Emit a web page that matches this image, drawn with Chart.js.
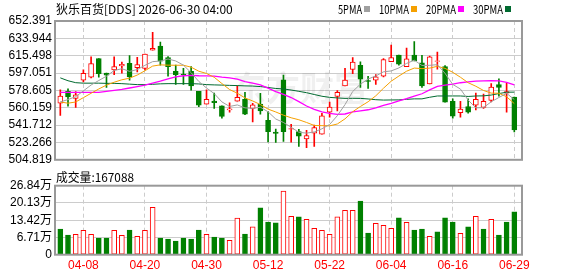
<!DOCTYPE html>
<html lang="zh">
<head>
<meta charset="utf-8">
<title>狄乐百货 DDS</title>
<script src="https://cdn.jsdelivr.net/npm/chart.js@4.4.1/dist/chart.umd.min.js"></script>
<style>
  html, body { margin: 0; padding: 0; background: #fff; }
  #wrap { position: relative; width: 578px; height: 276px; overflow: hidden; }
  #mainChart { position: absolute; left: 0; top: 0; }
  #volChart { position: absolute; left: 0; top: 170px; }
</style>
</head>
<body>
<div id="wrap">
  <canvas id="mainChart" width="578" height="170"></canvas>
  <canvas id="volChart" width="578" height="106"></canvas>
</div>
<script>
// Dados do gráfico
const stockName = '狄乐百货';
const stockCode = 'DDS';
const quoteTime = '2026-06-30 04:00';

const dates = [
  '04-02', '04-06', '04-07', '04-08', '04-09', '04-10', '04-13', '04-14', '04-15', '04-16',
  '04-17', '04-20', '04-21', '04-22', '04-23', '04-24', '04-27', '04-28', '04-29', '04-30',
  '05-01', '05-04', '05-05', '05-06', '05-07', '05-08', '05-11', '05-12', '05-13', '05-14',
  '05-15', '05-18', '05-19', '05-20', '05-21', '05-22', '05-26', '05-27', '05-28', '05-29',
  '06-01', '06-02', '06-03', '06-04', '06-05', '06-08', '06-09', '06-10', '06-11', '06-12',
  '06-15', '06-16', '06-17', '06-18', '06-22', '06-23', '06-24', '06-25', '06-26', '06-29'
];

const opens = [
  564.97, 577.58, 570.10, 589.57, 592.65, 612.42, 597.05, 600.43, 604.53, 607.30,
  602.89, 601.87, 621.34, 625.75, 613.45, 598.79, 596.03, 598.79, 577.58, 563.95,
  567.33, 562.21, 557.80, 567.03, 569.08, 559.44, 563.95, 546.84, 534.23, 589.88,
  537.30, 534.85, 527.06, 533.21, 532.18, 555.34, 572.15, 583.42, 600.84, 605.25,
  589.16, 589.57, 593.67, 609.04, 616.21, 603.92, 616.21, 608.02, 585.47, 609.35,
  603.92, 567.03, 555.04, 561.49, 562.93, 560.47, 568.05, 584.76, 575.53, 571.40
];
const highs = [
  579.32, 580.35, 577.28, 600.43, 614.17, 612.42, 597.05, 614.17, 608.63, 615.50,
  613.76, 617.24, 640.40, 629.85, 614.47, 605.56, 602.18, 603.92, 577.58, 579.32,
  575.84, 562.21, 565.28, 583.42, 576.56, 564.98, 575.53, 556.06, 537.61, 595.00,
  542.43, 537.30, 536.28, 541.71, 554.32, 566.31, 578.30, 602.18, 613.45, 609.04,
  593.67, 595.31, 612.42, 626.77, 616.21, 623.70, 630.56, 615.80, 615.19, 619.29,
  604.94, 569.69, 567.03, 569.69, 575.84, 574.81, 585.78, 590.91, 586.09, 571.40
];
const lows = [
  551.96, 561.90, 560.47, 587.52, 591.93, 592.65, 581.68, 595.31, 597.05, 589.57,
  598.38, 600.43, 621.34, 605.56, 593.67, 585.06, 585.06, 578.91, 561.18, 563.95,
  559.44, 549.19, 555.34, 567.03, 552.68, 545.09, 553.29, 523.78, 523.27, 524.30,
  523.57, 519.16, 517.63, 519.16, 532.18, 550.22, 556.78, 583.42, 596.34, 581.68,
  580.66, 585.06, 592.95, 609.04, 605.56, 603.92, 610.06, 581.68, 585.47, 601.15,
  565.97, 549.19, 550.22, 554.32, 557.80, 559.44, 566.31, 572.46, 555.34, 534.54
];
const closes = [
  572.45, 571.74, 573.79, 596.75, 607.00, 596.34, 594.70, 603.92, 606.28, 592.95,
  605.97, 617.24, 623.39, 609.66, 603.92, 595.31, 595.00, 583.42, 562.93, 569.08,
  565.59, 550.94, 559.14, 571.13, 553.29, 563.24, 556.78, 534.85, 532.80, 534.85,
  537.92, 529.93, 530.44, 538.95, 551.65, 560.88, 576.56, 589.57, 608.63, 590.60,
  588.14, 592.95, 611.40, 613.45, 606.58, 612.12, 610.06, 583.42, 614.17, 610.06,
  565.97, 551.24, 558.83, 555.34, 569.08, 567.03, 582.19, 581.68, 577.28, 536.59
];
const prevClose = 574.50;

// Volume em 万 (10 mil)
const volumes = [
  10.0, 7.67, 7.9, 9.5, 7.9, 6.5, 6.5, 9.5, 7.55, 9.6,
  7.15, 9.5, 18.45, 6.5, 6.1, 5.3, 6.5, 6.1, 9.6, 7.9,
  6.9, 6.5, 5.6, 14.2, 8.05, 10.8, 18.2, 12.7, 12.35, 24.7,
  14.95, 14.7, 13.8, 10.3, 9.5, 7.9, 14.7, 17.3, 17.3, 20.9,
  8.45, 12.2, 11.45, 10.3, 14.3, 12.6, 9.6, 10.0, 7.15, 8.85,
  14.3, 12.7, 8.3, 10.8, 14.95, 10.0, 13.8, 7.67, 12.7, 16.7088
];

// Médias lidas no início da janela (antes de haver fechamentos suficientes)
const ma5Start = [566.31, 568.87, 571.94, 578.09];
const ma10Start = [566.31, 564.98, 566.31, 570.92, 575.53, 580.14, 584.24, 587.32, 589.88];
const ma20Start = [
  576.56, 576.56, 576.56, 576.56, 576.56, 576.56, 577.58, 578.61, 579.63, 581.17,
  582.70, 584.24, 586.29, 588.34, 590.90, 592.95, 594.18, 594.49, 594.18
];
const ma30Start = [
  591.93, 588.87, 586.82, 586.29, 586.29, 586.29, 586.09, 586.09, 585.78, 585.27,
  584.76, 584.76, 585.07, 585.58, 585.78, 585.78, 585.78, 585.78, 585.47, 584.76,
  584.45, 584.24, 583.94, 583.73, 583.42, 583.22, 582.70, 581.68, 580.66
];

const priceTicks = [504.819, 523.266, 541.712, 560.159, 578.605, 597.051, 615.498, 633.944, 652.391];
const volTicks = [0, 6.71, 13.42, 20.13, 26.84];
const dateTickIdx = [3, 11, 19, 27, 35, 43, 51, 59];

const maNames = ['5PMA', '10PMA', '20PMA', '30PMA'];
const maColors = ['#a0a0a0', '#f5a000', '#ff00ff', '#006a30'];

const UP = '#ff0000';
const DOWN = '#008000';
const X_MIN = -0.69;
const X_MAX = 60.0;

// Calcula média móvel
function movingAverage(n, start) {
  return closes.map((c, i) => {
    if (i < n - 1) return start[i];
    let sum = 0;
    for (let k = i - n + 1; k <= i; k++) sum += closes[k];
    return sum / n;
  });
}

const maSeries = [
  movingAverage(5, ma5Start),
  movingAverage(10, ma10Start),
  movingAverage(20, ma20Start),
  movingAverage(30, ma30Start)
];

const candleColor = closes.map((c, i) => c >= opens[i] ? UP : DOWN);
const candleFill = closes.map((c, i) => c >= opens[i] ? '#ffffff' : DOWN);
const volColor = closes.map((c, i) => c >= (i > 0 ? closes[i - 1] : prevClose) ? UP : DOWN);
const volFill = volColor.map(c => c === UP ? '#ffffff' : DOWN);

Chart.defaults.font.family = '"Liberation Sans", "Noto Sans CJK SC", sans-serif';
Chart.defaults.font.size = 12;
Chart.defaults.color = '#000';

// Moldura cinza da área do gráfico
const framePlugin = {
  id: 'frame',
  afterDraw(chart) {
    const { ctx, chartArea: a } = chart;
    ctx.save();
    ctx.strokeStyle = '#999';
    ctx.lineWidth = 2;
    ctx.strokeRect(a.left, a.top, a.right - a.left, a.bottom - a.top);
    ctx.restore();
  }
};

// Marca d'água
const watermarkPlugin = {
  id: 'watermark',
  beforeDatasetsDraw(chart) {
    const ctx = chart.ctx;
    ctx.save();
    ctx.font = 'bold 34px "Noto Sans CJK SC"';
    ctx.fillStyle = 'rgba(0, 0, 0, 0.06)';
    ctx.textAlign = 'center';
    ctx.textBaseline = 'middle';
    ctx.fillText('东方财富', 300, 88);
    ctx.restore();
  }
};

// Título e legenda das médias
const headerPlugin = {
  id: 'header',
  afterDraw(chart) {
    const ctx = chart.ctx;
    ctx.save();
    ctx.textBaseline = 'middle';
    ctx.fillStyle = '#000';
    ctx.font = '12px "Noto Sans CJK SC"';
    ctx.fillText(`${stockName}[${stockCode}] ${quoteTime}`, 56, 9, 178);

    let x = 338;
    maNames.forEach((name, i) => {
      const w = name.length * 6;
      ctx.fillStyle = '#000';
      ctx.font = '12px "Noto Sans CJK SC"';
      ctx.fillText(name, x, 9, w);
      x += w + 2;
      ctx.fillStyle = maColors[i];
      ctx.fillRect(x, 6, 6, 6);
      x += 15;
    });
    ctx.restore();
  }
};

// Rótulo do volume
const volHeaderPlugin = {
  id: 'volHeader',
  afterDraw(chart) {
    const ctx = chart.ctx;
    ctx.save();
    ctx.textBaseline = 'middle';
    ctx.fillStyle = '#000';
    ctx.font = '12px "Noto Sans CJK SC"';
    const last = Math.round(volumes[volumes.length - 1] * 10000);
    ctx.fillText('成交量:' + last, 56, 7, 78);
    ctx.restore();
  }
};

const dashedX = {
  type: 'linear',
  min: X_MIN,
  max: X_MAX,
  offset: false,
  grid: { color: '#cccccc', drawTicks: false, offset: false },
  border: { display: false, dash: [4, 3] },
  afterBuildTicks: s => { s.ticks = dateTickIdx.map(v => ({ value: v })); }
};

// Gráfico de candles
new Chart(document.getElementById('mainChart'), {
  type: 'bar',
  data: {
    datasets: [
      ...maSeries.map((series, k) => ({
        type: 'line',
        label: maNames[k],
        data: series.map((v, i) => ({ x: i, y: v })),
        borderColor: maColors[k],
        borderWidth: k === 2 ? 1.3 : 1,
        pointRadius: 0,
        tension: 0,
        order: 0
      })),
      {
        label: 'body',
        data: opens.map((o, i) => ({ x: i, y: [o, closes[i]] })),
        backgroundColor: candleFill,
        borderColor: candleColor,
        borderWidth: 1,
        borderSkipped: false,
        barThickness: 5,
        grouped: false,
        order: 1
      },
      {
        label: 'wick',
        data: lows.map((l, i) => ({ x: i, y: [l, highs[i]] })),
        backgroundColor: candleColor,
        borderWidth: 0,
        barThickness: 1,
        grouped: false,
        order: 2
      }
    ]
  },
  options: {
    responsive: false,
    animation: false,
    events: [],
    layout: { padding: { top: 21, right: 56, bottom: 5, left: 0 } },
    plugins: { legend: { display: false }, tooltip: { enabled: false } },
    scales: {
      x: {
        ...dashedX,
        ticks: { display: false },
        afterFit: s => { s.height = 0; }
      },
      y: {
        min: priceTicks[0],
        max: priceTicks[priceTicks.length - 1],
        afterBuildTicks: s => { s.ticks = priceTicks.map(v => ({ value: v })); },
        afterFit: s => { s.width = 55; },
        ticks: { autoSkip: false, padding: 3, color: '#000', callback: v => v.toFixed(3) },
        grid: { color: '#cccccc', drawTicks: false },
        border: { display: false }
      }
    }
  },
  plugins: [watermarkPlugin, framePlugin, headerPlugin]
});

// Gráfico de volume
new Chart(document.getElementById('volChart'), {
  type: 'bar',
  data: {
    datasets: [{
      label: 'volume',
      data: volumes.map((v, i) => ({ x: i, y: v })),
      backgroundColor: volFill,
      borderColor: volColor,
      borderWidth: 1,
      borderSkipped: false,
      barThickness: 5,
      grouped: false
    }]
  },
  options: {
    responsive: false,
    animation: false,
    events: [],
    layout: { padding: { top: 15.7, right: 56, bottom: 0, left: 0 } },
    plugins: { legend: { display: false }, tooltip: { enabled: false } },
    scales: {
      x: {
        ...dashedX,
        ticks: { autoSkip: false, maxRotation: 0, padding: 4, color: '#ff0000', callback: v => dates[v] },
        afterFit: s => { s.height = 21.3; }
      },
      y: {
        min: 0,
        max: volTicks[volTicks.length - 1],
        afterBuildTicks: s => { s.ticks = volTicks.map(v => ({ value: v })); },
        afterFit: s => { s.width = 55; },
        ticks: { autoSkip: false, padding: 3, color: '#000', callback: v => v === 0 ? '0' : v.toFixed(2) + '万' },
        grid: { color: '#cccccc', drawTicks: false },
        border: { display: false }
      }
    }
  },
  plugins: [framePlugin, volHeaderPlugin]
});
</script>
</body>
</html>
